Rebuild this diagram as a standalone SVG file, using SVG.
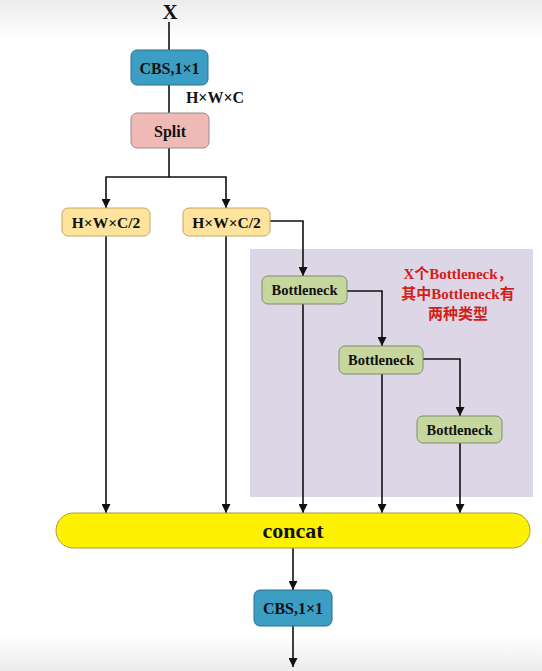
<svg xmlns="http://www.w3.org/2000/svg" width="542" height="671" viewBox="0 0 542 671">
<defs>
<linearGradient id="topg" x1="0" y1="0" x2="0" y2="1"><stop offset="0" stop-color="#ececec"/><stop offset="1" stop-color="#ffffff"/></linearGradient>
<linearGradient id="botg" x1="0" y1="0" x2="0" y2="1"><stop offset="0" stop-color="#ffffff"/><stop offset="1" stop-color="#ebebeb"/></linearGradient>
<marker id="arr" viewBox="0 0 10 10" refX="10" refY="5" markerWidth="9" markerHeight="9" markerUnits="userSpaceOnUse" orient="auto"><path d="M0,0 L10,5 L0,10 z" fill="#111"/></marker>
<style>
.t{font-family:"Liberation Serif","Times New Roman",serif;font-weight:bold;fill:#111;text-anchor:middle}
.cbs{fill:#3c9ec3;stroke:#2a6f8c;stroke-width:1}
.split{fill:#efb9b5;stroke:#9a8a88;stroke-width:1}
.half{fill:#fde39c;stroke:#c6a55e;stroke-width:1}
.bn{fill:#c6d79e;stroke:#7e8c6a;stroke-width:1}
.cc{fill:#fff200;stroke:#a89a3a;stroke-width:1}
.ln{fill:none;stroke:#111;stroke-width:1.6}
.red{font-family:"Liberation Serif","Noto Sans CJK SC",serif;font-weight:bold;fill:#d21f1a;text-anchor:middle;font-size:15px}
</style>
</defs>
<rect x="0" y="0" width="542" height="671" fill="#ffffff"/>
<rect x="0" y="0" width="542" height="40" fill="url(#topg)"/>
<rect x="0" y="636" width="542" height="35" fill="url(#botg)"/>
<rect id="region" x="250" y="249" width="283" height="248" fill="#ddd6e6"/>
<g id="connectors">
<path class="ln" d="M169,22 V50"/>
<path class="ln" d="M169,85 V113"/>
<path class="ln" d="M169,148 V177 H106 V208" marker-end="url(#arr)"/>
<path class="ln" d="M169,177 H226 V208" marker-end="url(#arr)"/>
<path class="ln" d="M270,221 H303 V276" marker-end="url(#arr)"/>
<path class="ln" d="M347,291 H382 V346" marker-end="url(#arr)"/>
<path class="ln" d="M423,359 H460 V416" marker-end="url(#arr)"/>
<path class="ln" d="M106,236 V513" marker-end="url(#arr)"/>
<path class="ln" d="M226,236 V513" marker-end="url(#arr)"/>
<path class="ln" d="M303,304 V513" marker-end="url(#arr)"/>
<path class="ln" d="M382,374 V513" marker-end="url(#arr)"/>
<path class="ln" d="M460,443 V513" marker-end="url(#arr)"/>
<path class="ln" d="M293,548 V590" marker-end="url(#arr)"/>
<path class="ln" d="M293,626 V667" marker-end="url(#arr)"/>
</g>
<g id="input"><text class="t" x="170" y="19" font-size="21">X</text></g>
<g id="cbs1"><rect class="cbs" x="131" y="50" width="77" height="35" rx="6"/><text class="t" x="169.5" y="73.5" font-size="16">CBS,1×1</text></g>
<g id="shape-label"><text class="t" x="215" y="103" font-size="16">H×W×C</text></g>
<g id="split"><rect class="split" x="131" y="113" width="78" height="35" rx="6"/><text class="t" x="170" y="136.5" font-size="16">Split</text></g>
<g id="half1"><rect class="half" x="62" y="208" width="88" height="28" rx="6"/><text class="t" x="106" y="227.5" font-size="15.5">H×W×C/2</text></g>
<g id="half2"><rect class="half" x="183" y="208" width="87" height="28" rx="6"/><text class="t" x="226.5" y="227.5" font-size="15.5">H×W×C/2</text></g>
<g id="bn1"><rect class="bn" x="262" y="276" width="85" height="28" rx="6"/><text class="t" x="304.5" y="295" font-size="14.5">Bottleneck</text></g>
<g id="bn2"><rect class="bn" x="339" y="346" width="84" height="28" rx="6"/><text class="t" x="381" y="365" font-size="14.5">Bottleneck</text></g>
<g id="bn3"><rect class="bn" x="417" y="416" width="85" height="27" rx="6"/><text class="t" x="459.5" y="434.5" font-size="14.5">Bottleneck</text></g>
<g id="note">
<text class="red" x="458" y="279">X个Bottleneck，</text>
<text class="red" x="458" y="299">其中Bottleneck有</text>
<text class="red" x="458" y="319">两种类型</text>
</g>
<g id="concat"><rect class="cc" x="56" y="513" width="474" height="35" rx="17.5"/><text class="t" x="293" y="538" font-size="22">concat</text></g>
<g id="cbs2"><rect class="cbs" x="254" y="590" width="78" height="36" rx="6"/><text class="t" x="293" y="613.5" font-size="16">CBS,1×1</text></g>
</svg>
